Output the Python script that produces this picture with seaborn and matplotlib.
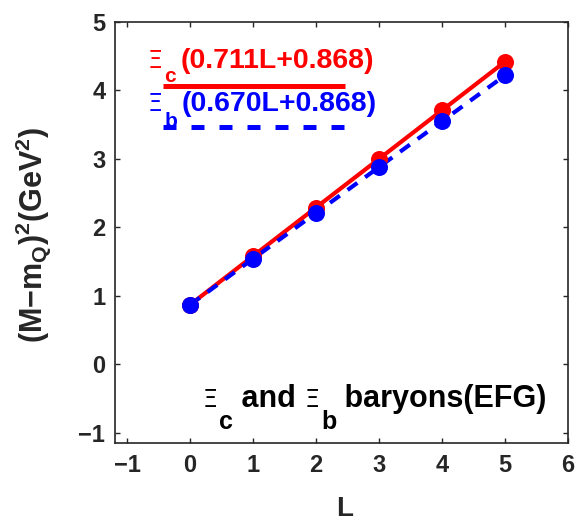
import matplotlib
matplotlib.use("Agg")
import matplotlib.pyplot as plt
import seaborn as sns
import pandas as pd

L = [0, 1, 2, 3, 4, 5]
xi_c = [0.868, 1.58, 2.29, 3.00, 3.71, 4.42]
xi_b = [0.868, 1.54, 2.21, 2.88, 3.55, 4.22]
x_ticks = [-1, 0, 1, 2, 3, 4, 5, 6]
y_ticks = [-1, 0, 1, 2, 3, 4, 5]
label_c = [("\u039e", "g"), ("c", "s"), ("(0.711L+0.868)", "m")]
label_b = [("\u039e", "g"), ("b", "s"), ("(0.670L+0.868)", "m")]
note = [("\u039e", "g"), ("c", "s"), (" and ", "m"), ("\u039e", "g"), ("b", "s"),
        (" baryons(EFG)", "m")]

sns.set_style("ticks")
plt.rcParams['font.family'] = ['Liberation Sans', 'DejaVu Sans']
plt.rcParams['font.weight'] = 'bold'
plt.rcParams['mathtext.fontset'] = 'custom'
plt.rcParams['mathtext.rm'] = 'Liberation Sans:bold'
plt.rcParams['mathtext.it'] = 'Liberation Sans:bold'
plt.rcParams['mathtext.bf'] = 'Liberation Sans:bold'

df = pd.DataFrame({"L": L + L, "y": xi_c + xi_b,
                   "series": ["c"] * 6 + ["b"] * 6})

fig = plt.figure(figsize=(5.79, 5.24), dpi=100)
ax = fig.add_axes([115 / 579, 1 - 443 / 524, 453 / 579, 421 / 524])

red = "#ff0000"
blue = "#0000ff"

sns.lineplot(data=df[df.series == "c"], x="L", y="y", color=red, lw=3, ax=ax)
sns.lineplot(data=df[df.series == "b"], x="L", y="y", color=blue, lw=3,
             linestyle=(0, (2.9, 2.3)), ax=ax)
sns.scatterplot(data=df[df.series == "c"], x="L", y="y", color=red, s=150,
                edgecolor=red, linewidth=0, ax=ax, zorder=3)
sns.scatterplot(data=df[df.series == "b"], x="L", y="y", color=blue, s=150,
                edgecolor=blue, linewidth=0, ax=ax, zorder=4)

ax.set_xlim(-1.19, 5.9)
ax.set_ylim(-1.15, 5.0)
ax.set_xticks(x_ticks)
ax.set_yticks(y_ticks)
fmt = lambda t: ("\u2212" + str(-t)) if t < 0 else str(t)
ax.set_xticklabels([fmt(t) for t in x_ticks], fontsize=17, fontweight='bold')
ax.set_yticklabels([fmt(t) for t in y_ticks], fontsize=17, fontweight='bold')
ax.tick_params(direction='in', length=3.5, width=1, top=True, right=True)
ax.tick_params(axis='x', pad=8)
ax.tick_params(axis='y', pad=7)
for s in ax.spines.values():
    s.set_linewidth(1.2)

ax.set_xlabel("L", fontsize=20, fontweight='bold')
ax.xaxis.label.set_va('baseline')
ax.xaxis.set_label_coords(0.508, -0.174)
ax.set_ylabel(r"(M$-$m$_\mathregular{Q}$)$^\mathregular{2}$(GeV$^\mathregular{2}$)",
              fontsize=22, fontweight='bold')
ax.yaxis.set_label_coords(-0.137, 0.495)


def rich(parts, x, y, color, main, greek, sub, drop, gap_after_sub):
    """Draw text pieces: 'g' greek letter, 's' lowered subscript, 'm' main text."""
    prev = None
    prev_kind = None
    for p, kind in parts:
        size = {"s": sub, "g": greek, "m": main}[kind]
        fam = ['DejaVu Sans'] if kind == "g" else ['Liberation Sans', 'DejaVu Sans']
        wt = 'normal' if kind == "g" else 'bold'
        off_y = -drop if kind == "s" else 0
        off_x = 1.0 if kind == "s" else (gap_after_sub if prev_kind == "s" else 0)
        if prev is None:
            prev = ax.text(x, y, p, transform=ax.transAxes, color=color,
                           fontsize=size, fontweight=wt, family=fam,
                           va='baseline', ha='left')
        else:
            prev = ax.annotate(p, xy=(1, y), xycoords=(prev, ax.transAxes),
                               xytext=(off_x, off_y),
                               textcoords='offset points', color=color,
                               fontsize=size, fontweight=wt, family=fam,
                               va='baseline', ha='left')
        prev_kind = kind


rich(label_c, 0.073, 0.891, red, 20.5, 17, 15, 10, 3.0)
ax.plot([0.106, 0.508], [0.848, 0.848], color=red, lw=3.6, transform=ax.transAxes,
        solid_capstyle='butt')
rich(label_b, 0.073, 0.788, blue, 20.5, 17, 15, 11, 3.0)
ax.plot([0.106, 0.508], [0.751, 0.751], color=blue, lw=3.6,
        linestyle=(0, (2.6, 3.0)), transform=ax.transAxes)

rich(note, 0.194, 0.0855, 'black', 22, 17, 18, 16, 0)

fig.savefig("out.png", dpi=100)
